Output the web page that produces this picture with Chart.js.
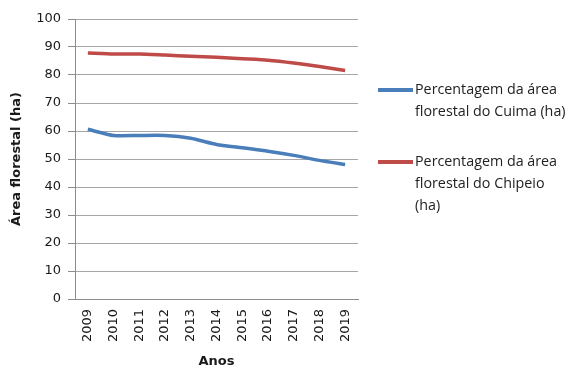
<!DOCTYPE html>
<html>
<head>
<meta charset="utf-8">
<script src="https://cdn.jsdelivr.net/npm/chart.js@4"></script>
<style>
  body { margin: 0; background: #fff; }
  #wrap { position: relative; width: 572px; height: 369px; }
  #legend { position: absolute; left: 378px; top: 0; font-family: "Open Sans", sans-serif; font-size: 14.3px; color: #222; }
  .item { position: absolute; left: 0; width: 194px; line-height: 22px; }
  .item .swatch { position: absolute; left: 0; top: 10px; width: 35px; height: 3.5px; }
  .item .txt { position: absolute; left: 37px; top: 0; white-space: nowrap; }
</style>
</head>
<body>
<div id="wrap">
  <canvas id="myChart" width="572" height="369"></canvas>
  <div id="legend"></div>
</div>
<script>
// anos e valores das duas series
var anos = ['2009', '2010', '2011', '2012', '2013', '2014', '2015', '2016', '2017', '2018', '2019'];
var cuima = [60.6, 58.4, 58.4, 58.4, 57.4, 55.2, 54.0, 52.8, 51.3, 49.5, 48.0];
var chipeio = [87.9, 87.5, 87.5, 87.1, 86.7, 86.3, 85.8, 85.3, 84.3, 83.0, 81.6];
var nomes = [
  ['Percentagem da área', 'florestal do Cuima (ha)'],
  ['Percentagem da área', 'florestal do Chipeio', '(ha)']
];
var cores = ['#4a7ebb', '#be4b48'];

var ctx = document.getElementById('myChart').getContext('2d');
var chart = new Chart(ctx, {
  type: 'line',
  data: {
    labels: anos,
    datasets: [{
      label: nomes[0].join(' '),
      data: cuima,
      borderColor: cores[0],
      borderWidth: 3.5,
      pointRadius: 0,
      tension: 0.2
    }, {
      label: nomes[1].join(' '),
      data: chipeio,
      borderColor: cores[1],
      borderWidth: 3.5,
      pointRadius: 0,
      tension: 0.2
    }]
  },
  options: {
    responsive: false,
    animation: false,
    layout: { padding: { top: 19, right: 214, bottom: 0, left: 0 } },
    plugins: { legend: { display: false }, tooltip: { enabled: false } },
    scales: {
      x: {
        offset: true,
        grid: { display: false, drawTicks: false },
        border: { color: '#8c8c8c', width: 1 },
        ticks: {
          minRotation: 90, maxRotation: 90, padding: 10,
          color: '#1a1a1a',
          font: { family: 'DejaVu Sans', size: 13 }
        },
        title: {
          display: true, text: 'Anos', color: '#1a1a1a',
          font: { family: 'DejaVu Sans', size: 13, weight: 'bold' },
          padding: { top: 6, bottom: 0 }
        },
        afterFit: function(scale) { scale.height = 70; }
      },
      y: {
        min: 0, max: 100,
        ticks: {
          stepSize: 10, padding: 7, color: '#1a1a1a',
          font: { family: 'DejaVu Sans', size: 13 }
        },
        grid: { color: '#a6a6a6', tickLength: 7, tickColor: '#8c8c8c' },
        border: { color: '#8c8c8c', width: 1 },
        title: {
          display: true, text: 'Área florestal (ha)', color: '#1a1a1a',
          font: { family: 'DejaVu Sans', size: 13, weight: 'bold' },
          padding: { top: 9, bottom: 0 }
        },
        afterFit: function(scale) { scale.width = 75; }
      }
    }
  }
});

// legenda ao lado do grafico
var legenda = document.getElementById('legend');
var topos = [78, 150];
nomes.forEach(function(linhas, i) {
  var item = document.createElement('div');
  item.className = 'item';
  item.style.top = topos[i] + 'px';
  item.innerHTML = '<div class="swatch" style="background:' + cores[i] + '"></div>' +
    '<div class="txt">' + linhas.join('<br>') + '</div>';
  legenda.appendChild(item);
});
</script>
</body>
</html>
